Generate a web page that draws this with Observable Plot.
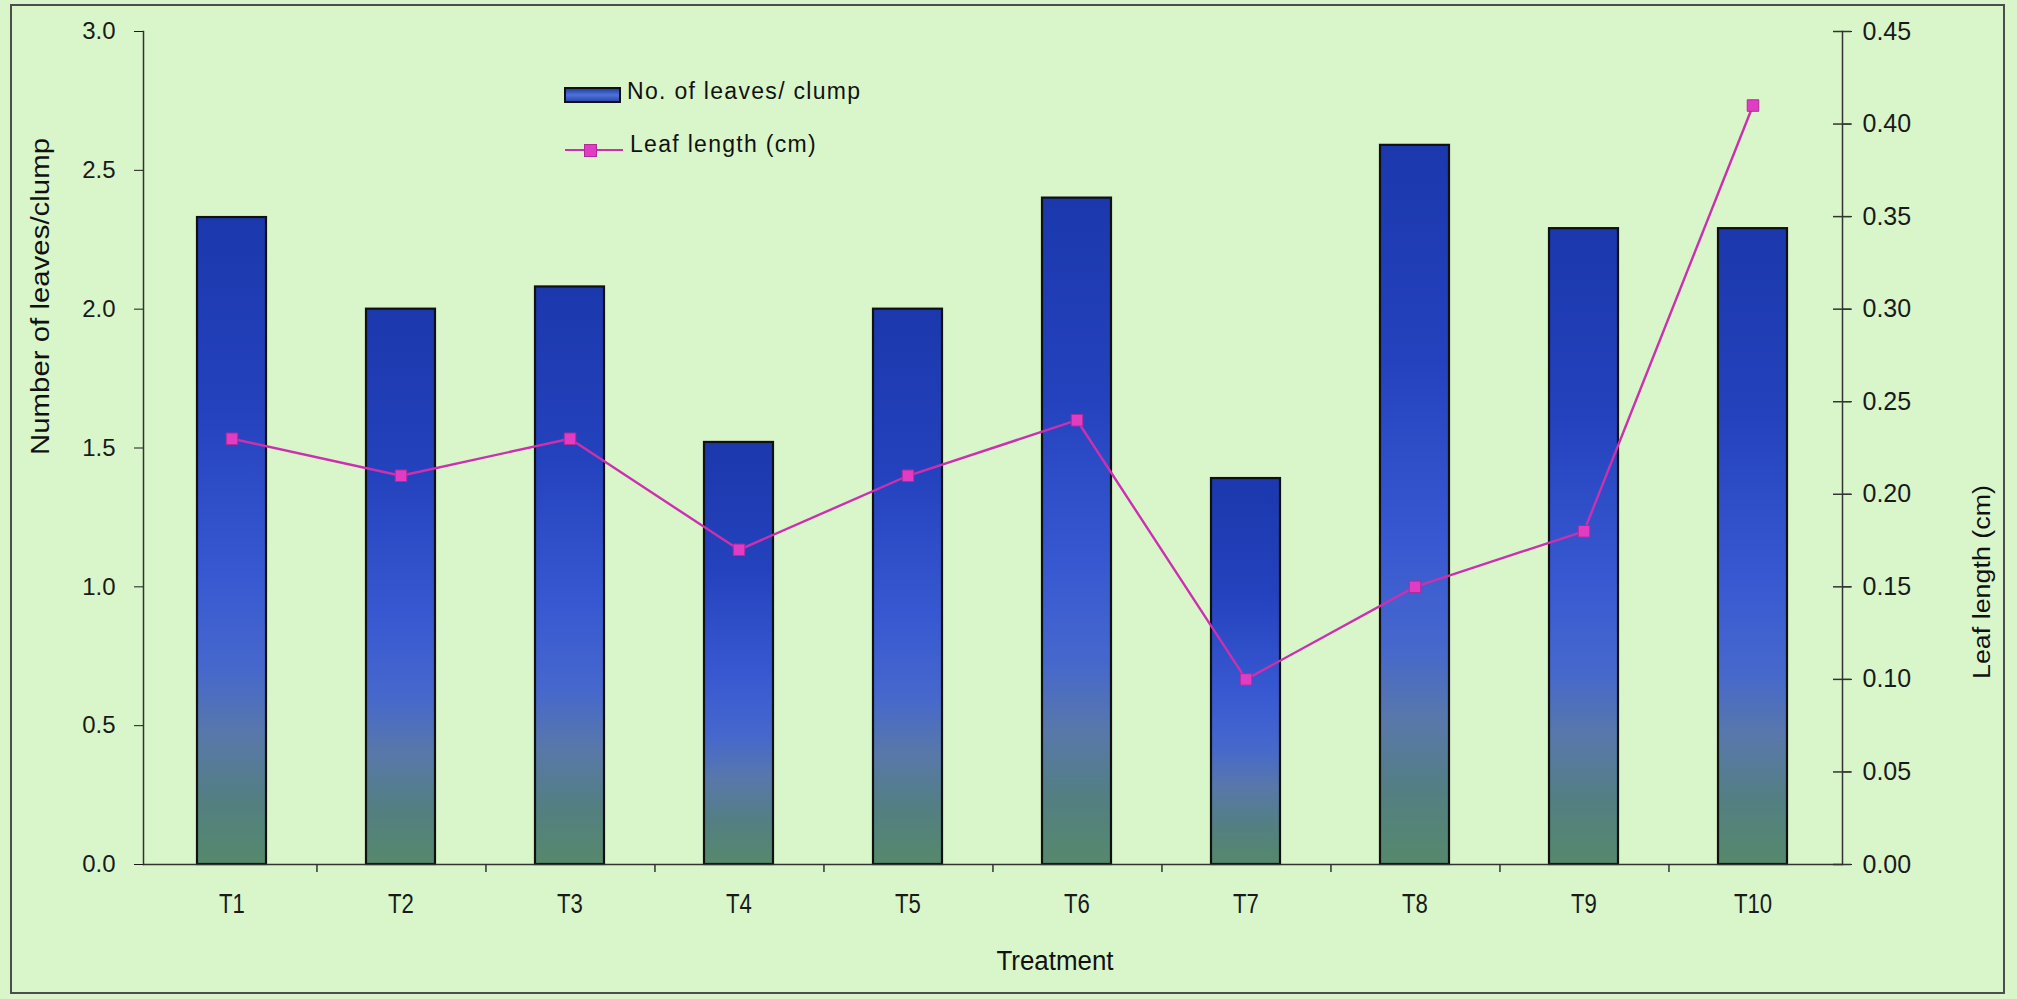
<!DOCTYPE html>
<html><head><meta charset="utf-8">
<script src="https://cdn.jsdelivr.net/npm/d3@7"></script>
<script src="https://cdn.jsdelivr.net/npm/@observablehq/plot@0.6"></script>
<style>
body{margin:0;background:#dcf5cf;}
#wrap{position:relative;width:2017px;height:999px;overflow:hidden;font-family:"Liberation Sans",Arial,sans-serif;}
#frame{position:absolute;left:10px;top:4px;width:1991px;height:986px;border:2px solid #4d4d4d;pointer-events:none;}
.leg{position:absolute;font-size:23px;line-height:23px;letter-spacing:1.3px;color:#111;white-space:nowrap;}
</style></head><body>
<div id="wrap"></div>
<script>
// ---- data ----
const treatments = ["T1","T2","T3","T4","T5","T6","T7","T8","T9","T10"];
const leavesPerClump = [2.33, 2.00, 2.08, 1.52, 2.00, 2.40, 1.39, 2.59, 2.29, 2.29];
const leafLengthCm   = [0.23, 0.21, 0.23, 0.17, 0.21, 0.24, 0.10, 0.15, 0.18, 0.41];
const leftTicks  = [0, 0.5, 1.0, 1.5, 2.0, 2.5, 3.0];
const rightTicks = [0, 0.05, 0.10, 0.15, 0.20, 0.25, 0.30, 0.35, 0.40, 0.45];
const barLegend = "No. of leaves/ clump";
const lineLegend = "Leaf length (cm)";
const yLabel = "Number of leaves/clump";
const y2Label = "Leaf length (cm)";
const xLabel = "Treatment";

// ---- layout ----
const W = 2017, H = 999;
const mL = 143, mR = 175, mT = 31, mB = 135;
const plotW = W - mL - mR;
const step = plotW / treatments.length;
const k = 3 / 0.45; // right-axis value -> left-axis units

const data = treatments.map((t, i) => ({t, leaves: leavesPerClump[i], len: leafLengthCm[i]}));

const chart = Plot.plot({
  width: W, height: H,
  marginLeft: mL, marginRight: mR, marginTop: mT, marginBottom: mB,
  style: {background: "#d9f6ca", fontFamily: "'Liberation Sans', Arial, sans-serif", fontSize: "24px", color: "#1a1a1a", overflow: "visible"},
  x: {domain: treatments, paddingInner: 0.59, paddingOuter: 0.295},
  y: {domain: [0, 3]},
  marks: [
    Plot.barY(data, {x: "t", y: "leaves", fill: "url(#barGrad)", stroke: "#111", strokeWidth: 2.2}),
    Plot.frame({anchor: "left", stroke: "#333", strokeWidth: 1.5}),
    Plot.frame({anchor: "right", stroke: "#333", strokeWidth: 1.5}),
    Plot.ruleY([0], {stroke: "#333", strokeWidth: 1.5}),
    Plot.axisX({tickSize: 0, tickPadding: 29, fontSize: 27, label: null}),
    Plot.ruleX(treatments.slice(0, -1), {x: d => d, y1: 0, y2: 0, insetBottom: -8, dx: step / 2, stroke: "#333", strokeWidth: 1.5}),
    Plot.axisY(leftTicks, {anchor: "left", tickSize: 9, tickPadding: 19, tickFormat: d3.format(".1f"), label: null, fontSize: 24}),
    Plot.axisY(rightTicks.map(v => v * k), {anchor: "right", tickSize: 9, tickPadding: 11, tickFormat: d => (d / k).toFixed(2), label: null, fontSize: 25}),
    Plot.ruleY(rightTicks.map(v => v * k), {y: d => d, insetLeft: plotW - 9, insetRight: -9, stroke: "#333", strokeWidth: 1.5}),
    Plot.line(data, {x: "t", y: d => d.len * k, stroke: "#cc30b0", strokeWidth: 2.4}),
    Plot.dot(data, {x: "t", y: d => d.len * k, symbol: "square", r: 6.5, fill: "#e23cc4", stroke: "#b02a98", strokeWidth: 1}),
    Plot.text([yLabel], {text: d => d, frameAnchor: "left", rotate: -90, dx: -103, dy: 7, fontSize: 25, fill: "#111"}),
    Plot.text([y2Label], {text: d => d, frameAnchor: "right", rotate: -90, dx: 140, dy: 37, fontSize: 23, fill: "#111"}),
    Plot.text([xLabel], {text: d => d, frameAnchor: "bottom", dx: 62, dy: 105, fontSize: 27, fill: "#111"})
  ]
});

const wrap = document.getElementById("wrap");
wrap.appendChild(chart);

// gradient for bars
const svg = d3.select(chart);
const defs = svg.insert("defs", ":first-child");
const g = defs.append("linearGradient").attr("id", "barGrad").attr("x1", 0).attr("y1", 0).attr("x2", 0).attr("y2", 1);
[[0, "#1b38ad"], [0.3, "#2442bd"], [0.55, "#3858d2"], [0.7, "#4668cc"], [0.8, "#5878aa"], [0.9, "#537f82"], [1, "#56896c"]]
  .forEach(([o, c]) => g.append("stop").attr("offset", o).attr("stop-color", c));

// compress / stretch text like the original scan
svg.selectAll('g[aria-label="x-axis tick label"] text').each(function () {
  const L = this.getComputedTextLength();
  d3.select(this).attr("textLength", L * 0.82).attr("lengthAdjust", "spacingAndGlyphs");
});
svg.selectAll("text").filter(function () { return this.textContent === yLabel; })
  .attr("textLength", 317).attr("lengthAdjust", "spacingAndGlyphs");
svg.selectAll("text").filter(function () { return this.textContent === y2Label; })
  .attr("textLength", 194).attr("lengthAdjust", "spacingAndGlyphs");
svg.selectAll("text").filter(function () { return this.textContent === xLabel; })
  .attr("textLength", 117).attr("lengthAdjust", "spacingAndGlyphs");

// legend
const frame = document.createElement("div"); frame.id = "frame"; wrap.appendChild(frame);
function add(html) { const d = document.createElement("div"); d.innerHTML = html; wrap.appendChild(d.firstChild); }
add(`<div style="position:absolute;left:564px;top:87px;width:53px;height:12px;border:2px solid #111;background:linear-gradient(#2341a6,#4f72d6 50%,#2b4bb2);"></div>`);
add(`<div class="leg" style="left:627px;top:80px;">${barLegend}</div>`);
add(`<div style="position:absolute;left:565px;top:149px;width:58px;height:2px;background:#cc30b0;"></div>`);
add(`<div style="position:absolute;left:584px;top:144px;width:11px;height:11px;background:#e23cc4;border:1px solid #b02a98;"></div>`);
add(`<div class="leg" style="left:630px;top:133px;">${lineLegend}</div>`);
</script>
</body></html>
